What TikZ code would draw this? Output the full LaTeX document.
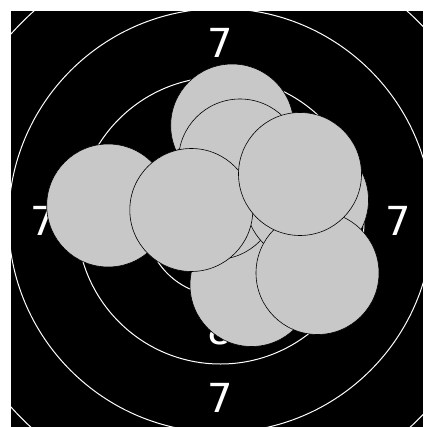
\documentclass[tikz,border=0pt]{standalone}
\usepackage{fontspec}
\setsansfont{DejaVu Sans}
\usetikzlibrary{positioning}
\definecolor{ShotGrey}{HTML}{C8C8C8}

\begin{document}
\begin{tikzpicture}[
  x=1pt,y=-1pt,
  ring/.style={draw=white,line width=1pt},
  score/.style={text=white,inner sep=0pt,font=\sffamily\fontsize{40}{40}\selectfont},
  shot/.style={circle,draw=black,line width=0.6pt,fill=ShotGrey,
               minimum size=123pt,inner sep=0pt},
]
\useasboundingbox (0,0) rectangle (423,427);
\fill[black] (11,11) rectangle (423,427);
\coordinate (ctr) at (220.5,220.5);
% scoring rings
\begin{scope}
  \clip (11,11) rectangle (423,427);
  \foreach \r in {75,143.5,212,280.5}
    \draw[ring] (ctr) circle[radius=\r];
\end{scope}
% ring numbers
\node[score] (n7t) at (220.5,42.75) {7};
\node[score] (n7b) at (220.5,398.25) {7};
\node[score] (n7l) at (42.75,220.5) {7};
\node[score] (n7r) at (398.25,220.5) {7};
\node[score] (n8t) at (220.5,111.25) {8};
\node[score] (n8b) at (220.5,329.75) {8};
\node[score] (n8l) at (111.25,220.5) {8};
\node[score] (n8r) at (329.75,220.5) {8};
% shots, bottom one first
\node[shot] (s1) at (108.2,205.5) {};
\node[shot] (s2) at (232.2,125.5) {};
\node[shot] (s3) at (251.5,285) {};
\node[shot] (s4) at (216,198) {};
\node[shot] (s5) at (240,160.5) {};
\node[shot] (s6) at (307,200) {};
\node[shot] (s7) at (191.3,210) {};
\node[shot] (s8) at (317.5,273) {};
\node[shot] (s9) at (300,174) {};
\end{tikzpicture}
\end{document}
